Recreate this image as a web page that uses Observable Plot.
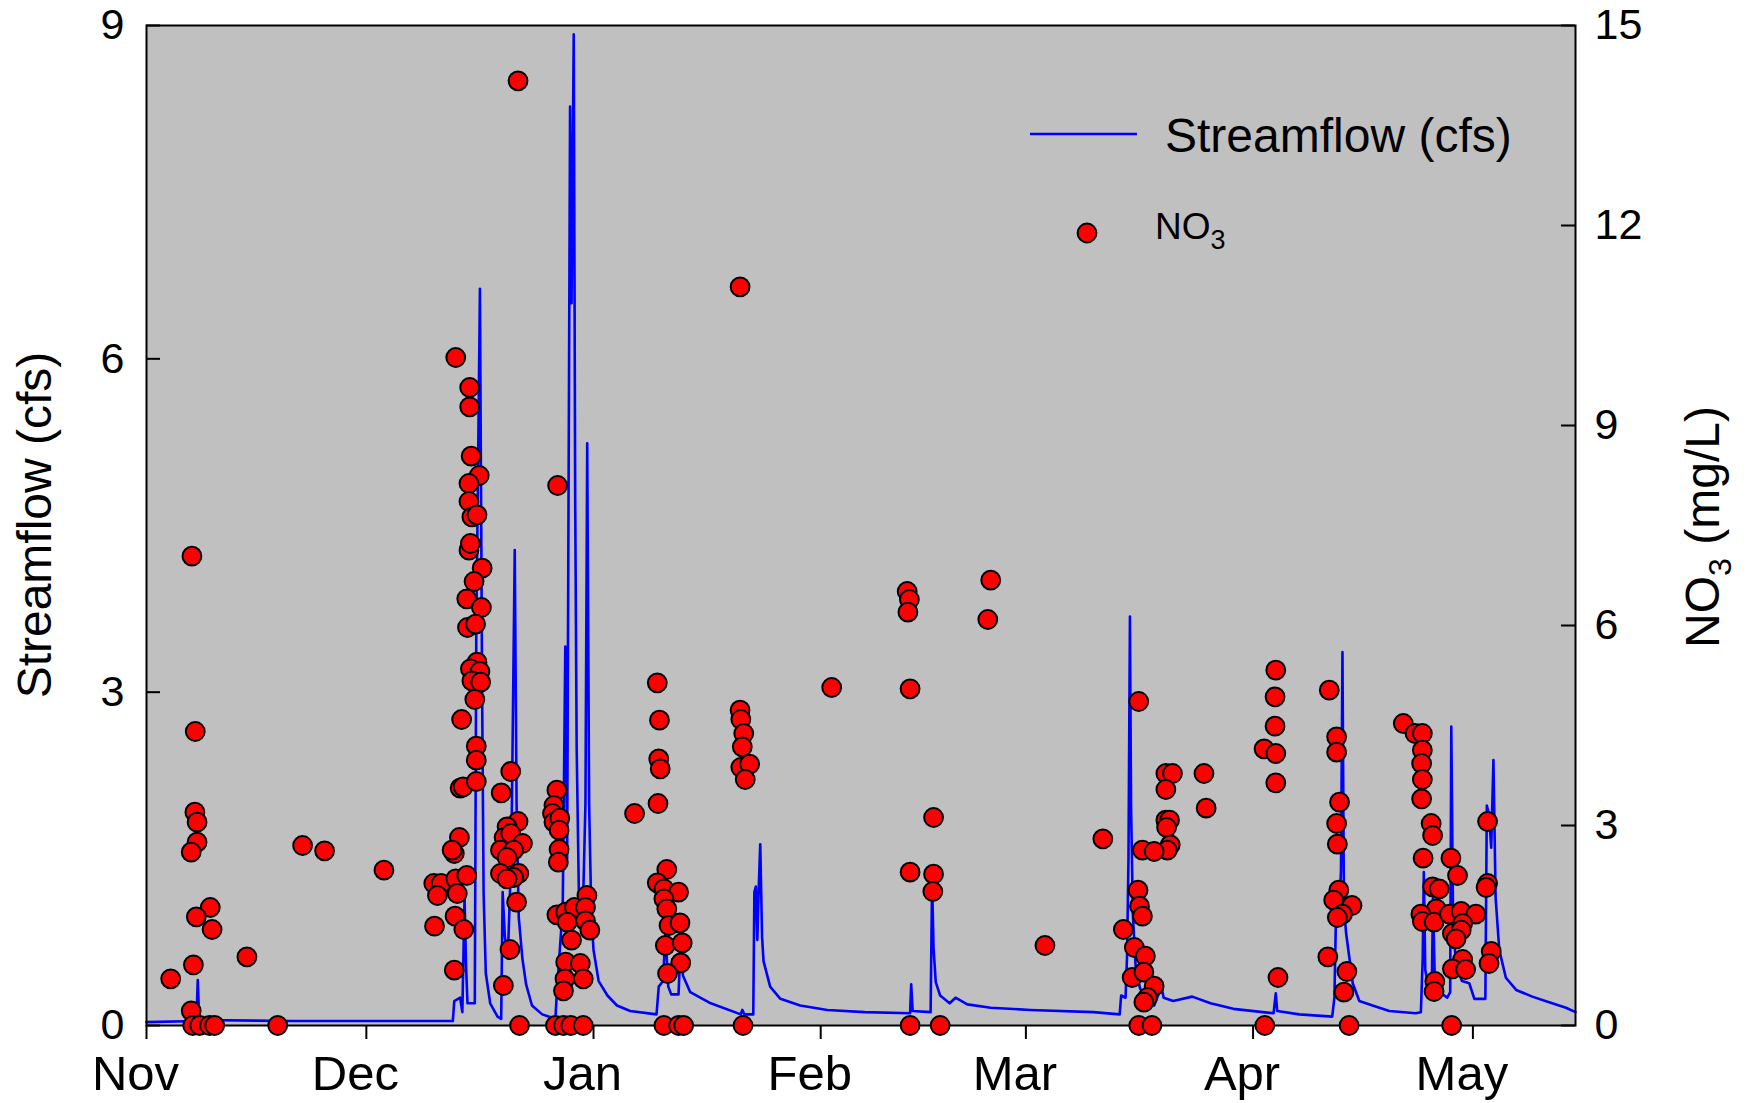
<!DOCTYPE html>
<html><head><meta charset="utf-8">
<script src="https://cdn.jsdelivr.net/npm/d3@7"></script>
<script src="https://cdn.jsdelivr.net/npm/@observablehq/plot@0.6"></script>
<style>
body{margin:0;background:#fff;}
#chart{width:1752px;height:1103px;}
</style></head><body><div id="chart"></div>
<script>
// ---- data (days counted from seasonStart) ----
const seasonStart = "2014-11-01";
const seasonEnd = "2015-05-15";
const monthTicks = ["2014-11-01","2014-12-01","2015-01-01","2015-02-01","2015-03-01","2015-04-01","2015-05-01"];
const monthLabels = ["Nov","Dec","Jan","Feb","Mar","Apr","May"];
const flowTicks = [0, 3, 6, 9];
const no3Ticks = [0, 3, 6, 9, 12, 15];

const flowDay = [0,6.8,7.0,7.15,7.4,20,41.8,42.0,42.8,43.1,43.4,43.6,43.8,44.8,45.0,45.5,45.8,46.0,46.3,46.9,47.9,48.4,48.6,48.9,49.3,49.8,50.25,50.5,50.8,51.3,51.8,52.6,54.0,55.8,56.0,56.8,57.15,57.4,57.8,58.0,58.3,58.5,58.7,59.0,59.5,59.9,60.14,60.4,60.7,61.0,61.7,62.9,64.2,66.0,69.6,69.9,70.5,70.8,71.2,71.6,72.6,72.9,73.2,74.2,77.0,81.1,81.3,81.6,82.8,82.95,83.15,83.35,83.55,83.75,84.0,84.2,85.1,86.5,89.2,92.9,98,104.2,104.35,104.55,107.0,107.2,107.4,107.7,108.3,109.6,110.4,112.0,115.2,120.6,129.2,132.8,133.0,133.6,133.8,134.0,134.2,134.35,134.6,135.0,135.6,136.5,137.5,138.5,138.8,140.1,142.7,145.2,148.3,153.8,154.1,154.3,157.3,161.8,162.1,162.4,162.7,163.0,163.2,163.4,163.7,164.6,165.5,167.3,169.6,173.2,173.9,174.15,174.3,174.5,175.0,175.4,175.55,175.8,176.5,177.5,177.9,178.05,178.3,178.7,179.5,180.5,181.2,182.7,182.9,183.2,183.5,183.8,184.1,184.6,185.5,186.9,189.1,191.4,193.7,195];
const flowCfs = [0.03,0.04,0.41,0.12,0.05,0.04,0.04,0.22,0.25,0.12,1.15,0.55,0.2,0.2,3.5,6.63,3.0,1.2,0.47,0.2,0.08,0.06,1.2,0.8,0.6,1.6,4.28,2.0,0.97,0.6,0.37,0.18,0.1,0.06,0.3,1.06,3.41,1.5,8.27,6.5,8.92,4.74,2.5,1.2,0.9,2.0,5.24,2.0,1.0,0.68,0.4,0.27,0.18,0.13,0.1,0.35,0.4,0.85,0.35,0.28,0.28,0.75,0.45,0.3,0.2,0.1,0.14,0.1,0.1,1.2,1.25,0.77,1.25,1.63,0.8,0.58,0.35,0.24,0.18,0.14,0.12,0.11,0.37,0.13,0.12,1.3,0.7,0.39,0.27,0.2,0.25,0.19,0.16,0.14,0.12,0.1,0.27,0.25,0.61,1.5,3.68,1.98,1.0,0.5,0.33,0.25,0.18,0.35,0.25,0.22,0.26,0.2,0.15,0.11,0.29,0.13,0.1,0.08,0.25,1.28,0.9,1.4,3.36,1.07,0.83,0.38,0.22,0.18,0.13,0.11,0.12,0.6,1.38,0.5,0.32,0.35,1.15,0.4,0.3,0.25,0.3,2.69,0.9,0.55,0.4,0.38,0.24,0.24,1.98,1.9,1.6,2.39,1.15,0.68,0.43,0.32,0.26,0.21,0.16,0.12];

const no3Day = [3.3,6.2,6.65,6.6,6.9,6.9,6.1,8.7,6.8,8.95,13.7,6.4,6.1,6.3,7.25,8.6,9.3,17.9,21.3,24.3,32.4,
 42.2,44.1,44.1,44.3,45.4,44.0,44.0,44.4,45.1,44.0,44.2,45.8,44.7,43.7,45.7,43.8,44.9,45.1,44.2,45.5,44.4,45.6,44.8,43.0,45.0,45.0,42.8,43.2,45.0,42.7,42.0,41.7,39.2,40.2,39.7,42.2,43.7,42.4,42.1,43.3,39.3,42.0,
 49.7,48.4,50.7,49.2,48.8,49.7,51.3,48.3,50.1,49.2,50.8,50.1,48.3,49.2,50.5,49.6,48.7,50.9,50.7,
 56.1,56.0,55.6,55.4,55.6,56.4,56.3,56.3,56.2,56.0,57.2,58.4,60.1,59.9,57.4,59.9,60.5,58.0,57.2,59.2,57.1,59.6,56.9,55.8,56.9,57.9,59.6,
 66.6,69.7,70.0,69.9,70.1,69.8,71.0,69.7,70.6,72.6,70.6,71.0,71.3,72.8,70.8,73.1,72.9,71.1,70.6,72.6,73.3,
 81.0,81.0,81.1,81.5,81.3,81.1,82.3,81.7,81.4,93.5,
 103.8,104.1,103.9,104.2,104.2,104.2,107.4,107.4,107.3,108.3,115.2,114.8,122.6,130.5,
 135.4,139.1,140.0,139.1,144.3,144.6,139.1,139.6,139.2,139.7,139.3,135.9,137.5,135.3,135.5,135.9,133.3,134.8,136.3,134.5,136.1,137.5,136.6,136.1,135.4,137.2,
 154.1,154.0,154.0,152.5,154.1,154.1,154.4,152.6,
 161.4,162.4,162.4,162.8,162.4,162.5,162.7,162.0,164.5,163.2,162.5,161.2,163.8,163.4,164.1,
 171.5,173.1,174.1,174.1,174.0,174.1,174.0,175.3,175.5,174.2,178.0,178.9,175.5,176.4,176.0,173.9,174.1,175.7,177.8,179.4,181.4,179.6,178.2,179.4,178.7,179.6,178.2,180.0,175.8,175.7,178.1,
 183.0,183.0,182.8,183.5,183.2];
const no3MgL = [0.7,7.04,4.41,3.2,3.05,2.75,2.6,1.77,1.63,1.44,1.03,0.91,0.22,0,0,0,0,0,2.7,2.62,2.33,
 10.02,9.57,9.28,8.54,8.25,8.13,7.86,7.63,7.66,7.13,7.23,6.86,6.66,6.4,6.27,5.97,6.02,5.45,5.35,5.31,5.17,5.15,4.89,4.59,4.19,3.98,3.56,3.58,3.66,2.82,2.58,2.63,2.13,2.13,1.95,2.2,2.25,1.98,1.64,1.44,1.49,0.83,
 3.81,3.49,3.06,2.98,2.82,2.88,2.73,2.63,2.63,2.52,2.28,2.22,2.28,2.2,1.85,1.14,0.6,0,14.17,
 8.1,3.53,3.3,3.18,3.05,3.11,2.93,2.64,2.45,1.66,1.7,1.77,1.95,1.77,1.55,1.57,1.43,1.28,0.95,0.93,0.7,0.7,0.52,0,0,0,0,
 3.18,5.14,4.58,4.0,3.85,3.33,2.34,2.14,2.05,2.0,1.9,1.75,1.5,1.54,1.2,1.24,0.94,0.78,0,0,0,
 11.08,4.73,4.59,4.38,4.18,3.87,3.92,3.69,0,5.07,
 6.51,6.39,6.2,5.05,2.3,0,3.12,2.27,2.01,0,6.68,6.09,1.2,2.8,
 4.86,3.78,3.78,3.54,3.78,3.26,3.08,3.08,2.97,2.71,2.63,2.63,2.61,2.03,1.79,1.64,1.44,1.17,1.04,0.72,0.8,0.59,0.42,0.35,0,0,
 5.33,4.93,4.49,4.15,4.08,3.64,0.72,0,
 5.03,4.33,4.1,3.35,3.03,2.72,2.03,1.88,1.8,1.67,1.62,1.03,0.81,0.5,0,
 4.53,4.38,4.38,4.13,3.93,3.69,3.4,3.03,2.85,2.51,2.51,2.25,2.08,2.05,1.75,1.67,1.56,1.55,1.67,1.71,1.67,1.53,1.38,1.43,1.3,0.99,0.85,0.84,0.66,0.51,0,
 3.06,2.13,2.07,1.11,0.93];

// ---- build tables ----
const t0 = new Date(seasonStart + "T00:00Z");
const toDate = d => new Date(+t0 + d * 864e5);
const flow = flowDay.map((d, i) => ({date: toDate(d), q: flowCfs[i]}));
const k = flowTicks[flowTicks.length - 1] / no3Ticks[no3Ticks.length - 1]; // NO3 -> left-axis units
const no3 = no3Day.map((d, i) => ({date: toDate(d), v: no3MgL[i] * k}));
const monthDates = monthTicks.map(s => new Date(s + "T00:00Z"));

const W = 1752, H = 1103, mL = 146, mR = 177, mT = 25, mB = 78;
const plotW = W - mL - mR;
const FONT = "'Liberation Sans', Arial, Helvetica, sans-serif";

const chart = Plot.plot({
  width: W, height: H,
  marginLeft: mL, marginRight: mR, marginTop: mT, marginBottom: mB,
  style: {fontFamily: FONT, background: "white", color: "black"},
  x: {type: "utc", domain: [t0, new Date(seasonEnd + "T00:00Z")]},
  y: {domain: [flowTicks[0], flowTicks[flowTicks.length - 1]]},
  marks: [
    Plot.frame({fill: "#c0c0c0"}),
    Plot.line(flow, {x: "date", y: "q", stroke: "#0000ff", strokeWidth: 2.6}),
    Plot.ruleY(flowTicks, {stroke: "black", strokeWidth: 2, insetRight: plotW - 14}),
    Plot.ruleY(no3Ticks.map(v => v * k), {stroke: "black", strokeWidth: 2, insetLeft: plotW - 14}),
    Plot.frame({stroke: "black", strokeWidth: 2}),
    Plot.axisX(monthDates, {tickSize: 14, tickPadding: 16, strokeWidth: 2, fontSize: 49,
      textStroke: "none",
      tickFormat: d => monthLabels[monthDates.findIndex(m => +m === +d)], label: null}),
    Plot.axisY(flowTicks, {anchor: "left", tickSize: 0, tickPadding: 22, fontSize: 43,
      tickFormat: d => String(d), label: null}),
    Plot.axisY(no3Ticks.map(v => v * k), {anchor: "right", tickSize: 0, tickPadding: 19, fontSize: 43,
      tickFormat: d => String(Math.round(d / k)), label: null}),
    Plot.dot(no3, {x: "date", y: "v", r: 9.4, fill: "#ff0000", stroke: "black", strokeWidth: 2})
  ]
});
document.getElementById("chart").appendChild(chart);

// shift month labels slightly left, as in the original figure
d3.select(chart).selectAll("[aria-label='x-axis tick label'] text").attr("dx", -11);

// ---- titles and legend ----
const svg = d3.select(chart);
const g = svg.append("g").attr("font-family", FONT).attr("fill", "black");
g.append("text").attr("transform", "translate(51,525) rotate(-90)")
  .attr("text-anchor", "middle").attr("font-size", 48).text("Streamflow (cfs)");
const rt = g.append("text").attr("transform", "translate(1719,527) rotate(-90)")
  .attr("text-anchor", "middle").attr("font-size", 48);
rt.append("tspan").text("NO");
rt.append("tspan").attr("font-size", 32).attr("dy", 12).text("3");
rt.append("tspan").attr("dy", -12).text(" (mg/L)");

g.append("line").attr("x1", 1030).attr("x2", 1137).attr("y1", 134).attr("y2", 134)
  .attr("stroke", "#0000ff").attr("stroke-width", 2.4);
g.append("text").attr("x", 1165).attr("y", 152).attr("font-size", 48)
  .attr("text-anchor", "start").text("Streamflow (cfs)");
g.append("circle").attr("cx", 1087).attr("cy", 233).attr("r", 9.4)
  .attr("fill", "#ff0000").attr("stroke", "black").attr("stroke-width", 2);
const lt = g.append("text").attr("x", 1155).attr("y", 239).attr("font-size", 37)
  .attr("text-anchor", "start");
lt.append("tspan").text("NO");
lt.append("tspan").attr("font-size", 27).attr("dy", 10).text("3");
</script>
</body></html>
